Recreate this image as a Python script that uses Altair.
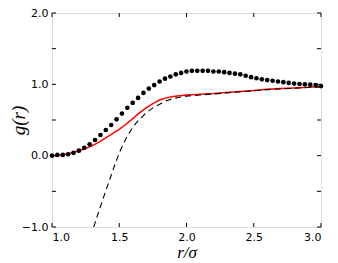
import altair as alt
import pandas as pd

# simulation g(r) points
r_dots = [1.00, 1.04, 1.08, 1.12, 1.16, 1.20, 1.24, 1.28, 1.32, 1.36,
          1.40, 1.44, 1.48, 1.52, 1.56, 1.60, 1.64, 1.68, 1.72, 1.76,
          1.80, 1.84, 1.88, 1.92, 1.96, 2.00, 2.04, 2.08, 2.12, 2.16,
          2.20, 2.24, 2.28, 2.32, 2.36, 2.40, 2.44, 2.48, 2.52, 2.56,
          2.60, 2.64, 2.68, 2.72, 2.76, 2.80, 2.84, 2.88, 2.92, 2.96, 3.00]
g_dots = [0.00, 0.01, 0.01, 0.02, 0.04, 0.07, 0.11, 0.16, 0.22, 0.29,
          0.36, 0.43, 0.51, 0.59, 0.67, 0.74, 0.81, 0.88, 0.94, 0.99,
          1.04, 1.08, 1.11, 1.14, 1.16, 1.18, 1.19, 1.19, 1.19, 1.19,
          1.18, 1.18, 1.17, 1.16, 1.15, 1.14, 1.12, 1.10, 1.085, 1.07,
          1.06, 1.05, 1.04, 1.03, 1.02, 1.01, 1.005, 1.00, 0.995, 0.99, 0.975]

# red solid theory curve
r_red = [1.00, 1.05, 1.10, 1.15, 1.20, 1.25, 1.30, 1.35, 1.40, 1.45,
         1.50, 1.55, 1.60, 1.65, 1.70, 1.75, 1.80, 1.85, 1.90, 1.95,
         2.00, 2.10, 2.20, 2.30, 2.40, 2.50, 2.60, 2.70, 2.80, 2.90, 3.00]
g_red = [0.00, 0.005, 0.02, 0.04, 0.07, 0.10, 0.14, 0.19, 0.25, 0.31,
         0.37, 0.44, 0.52, 0.60, 0.67, 0.73, 0.78, 0.81, 0.83, 0.84,
         0.85, 0.86, 0.87, 0.885, 0.90, 0.915, 0.93, 0.94, 0.95, 0.96, 0.97]

# black dashed curve
r_dash = [1.31, 1.35, 1.40, 1.45, 1.50, 1.55, 1.60, 1.65, 1.70, 1.75,
          1.80, 1.85, 1.90, 1.95, 2.00, 2.10, 2.20, 2.30, 2.40, 2.50,
          2.60, 2.70, 2.80, 2.90, 3.00]
g_dash = [-1.00, -0.77, -0.49, -0.22, 0.04, 0.24, 0.40, 0.51, 0.60, 0.67,
          0.72, 0.77, 0.80, 0.82, 0.835, 0.85, 0.865, 0.88, 0.895, 0.91,
          0.925, 0.935, 0.945, 0.955, 0.965]

x_ticks = [1.0, 1.5, 2.0, 2.5, 3.0]
y_ticks = [-1.0, -0.5, 0.0, 0.5, 1.0, 1.5, 2.0]

W, H = 269, 214
TL = 4

dots = pd.DataFrame({"r": r_dots, "g": g_dots})
red = pd.DataFrame({"r": r_red, "g": g_red})
dash = pd.DataFrame({"r": r_dash, "g": g_dash})
xt = pd.DataFrame({"t": x_ticks})
yt = pd.DataFrame({"t": y_ticks})

xscale = alt.Scale(domain=[1.0, 3.0], nice=False, zero=False)
yscale = alt.Scale(domain=[-1.0, 2.0], nice=False, zero=False)

xaxis = alt.Axis(values=x_ticks, format=".1f", ticks=False, domain=False, grid=False,
                 labelFont="DejaVu Sans", labelFontSize=11, labelColor="black",
                 labelPadding=4, title="r/σ", titleFont="Liberation Serif",
                 titleFontStyle="italic", titleFontWeight="normal", titleFontSize=17,
                 titleColor="black", titleX=W / 2, titleY=34, titleAlign="center",
                 titleBaseline="bottom")
yaxis = alt.Axis(values=y_ticks, format=".1f", ticks=False, domain=False, grid=False,
                 labelFont="DejaVu Sans", labelFontSize=11, labelColor="black",
                 labelPadding=4, title="g(r)", titleFont="Liberation Serif",
                 titleFontStyle="italic", titleFontWeight="normal", titleFontSize=19,
                 titleColor="black", titleX=-24, titleY=H / 2, titleAlign="center",
                 titleAngle=270, titleBaseline="bottom")

X = alt.X("r:Q", scale=xscale, axis=xaxis)
Y = alt.Y("g:Q", scale=yscale, axis=yaxis)

red_line = alt.Chart(red).mark_line(color="#ff0000", strokeWidth=1.5, clip=True).encode(x=X, y=Y)
dash_line = alt.Chart(dash).mark_line(color="black", strokeWidth=1.1, strokeDash=[6, 4], clip=True).encode(
    x=alt.X("r:Q", scale=xscale), y=alt.Y("g:Q", scale=yscale))
pts = alt.Chart(dots).mark_circle(color="black", size=22, opacity=1).encode(
    x=alt.X("r:Q", scale=xscale), y=alt.Y("g:Q", scale=yscale))

tx = alt.X("t:Q", scale=xscale)
ty = alt.Y("t:Q", scale=yscale)
tick_b = alt.Chart(xt).mark_rule(color="black", strokeWidth=1).encode(x=tx, y=alt.value(H), y2=alt.value(H - TL))
tick_t = alt.Chart(xt).mark_rule(color="black", strokeWidth=1).encode(x=tx, y=alt.value(0), y2=alt.value(TL))
tick_l = alt.Chart(yt).mark_rule(color="black", strokeWidth=1).encode(y=ty, x=alt.value(0), x2=alt.value(TL))
tick_r = alt.Chart(yt).mark_rule(color="black", strokeWidth=1).encode(y=ty, x=alt.value(W), x2=alt.value(W - TL))

chart = alt.layer(red_line, dash_line, pts, tick_b, tick_t, tick_l, tick_r).properties(
    width=W, height=H,
    autosize=alt.AutoSizeParams(type="none"),
    padding={"left": 44, "top": 5, "right": 9, "bottom": 36},
).configure_view(stroke="black", strokeWidth=1).configure(background="white")

chart.save("out.html", embed_options={"renderer": "svg", "actions": False})
